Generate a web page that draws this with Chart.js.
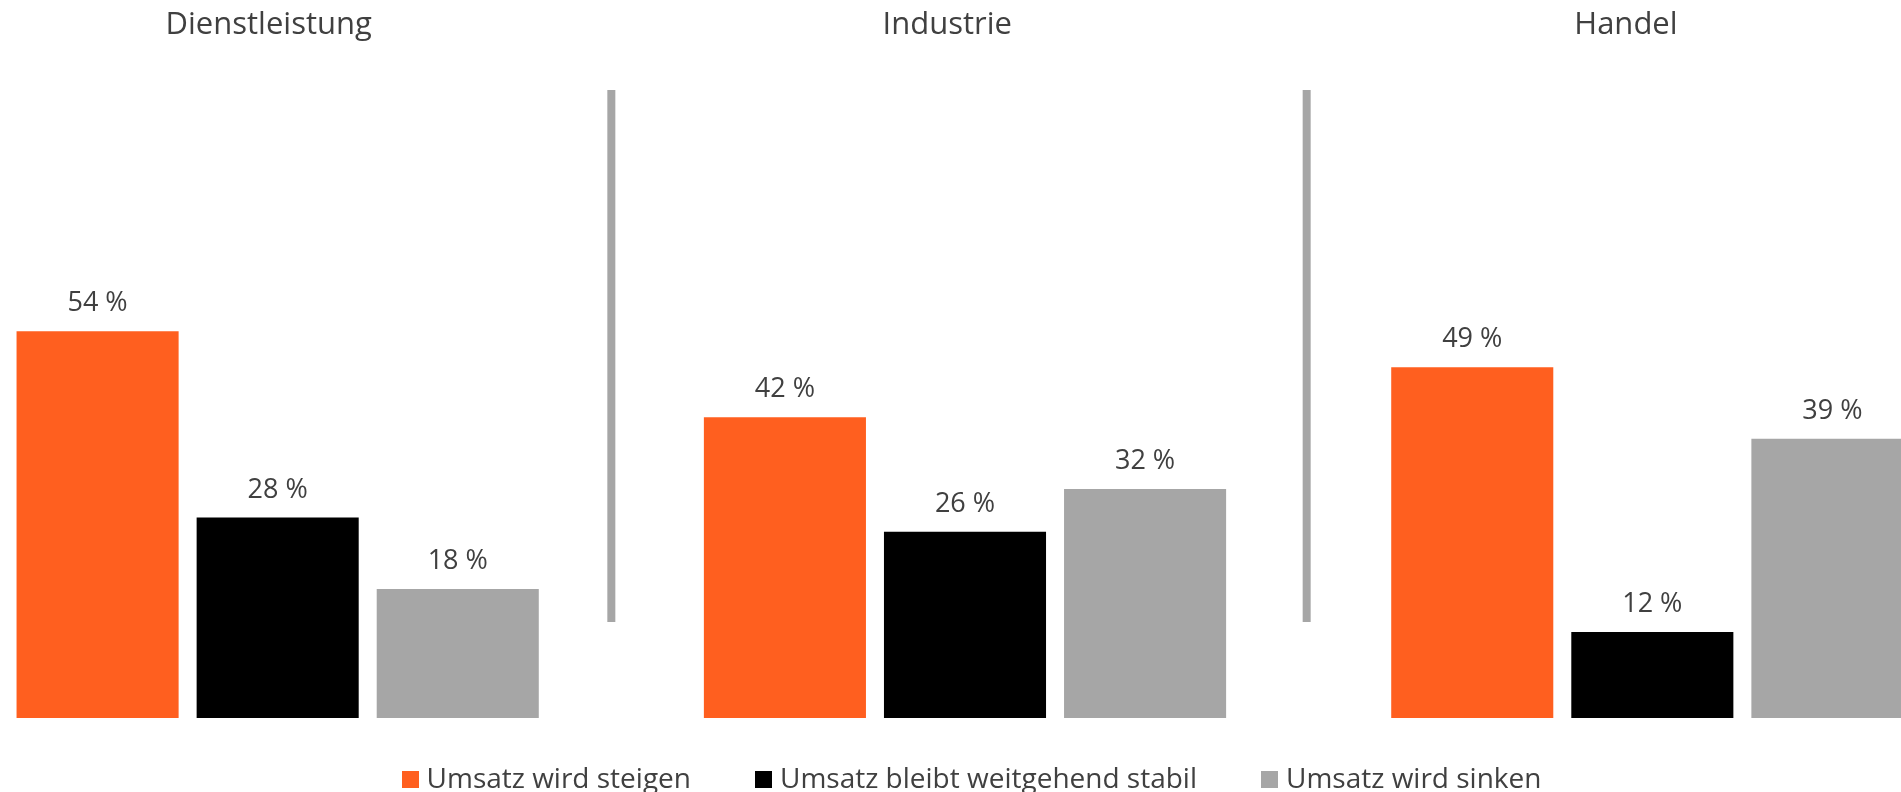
<!DOCTYPE html>
<html lang="de">
<head>
<meta charset="utf-8">
<title>Umsatzerwartung nach Branche</title>
<script src="https://cdn.jsdelivr.net/npm/chart.js@4.4.0/dist/chart.umd.min.js"></script>
<style>
    html, body { margin: 0; padding: 0; background: #fff; overflow: hidden; }
    body { width: 1901px; height: 792px; position: relative; font-family: "Open Sans", sans-serif; }
    #chartBox { position: absolute; left: -66px; top: 0; width: 2062px; height: 792px; }
    #legend { position: absolute; left: 21px; width: 1901px; top: 758px; text-align: center;
              font-size: 28px; line-height: 38px; color: #404040; white-space: nowrap; }
    #legend .item { display: inline-block; margin: 0 32px; }
    #legend .box { display: inline-block; width: 17px; height: 17px; margin-right: 8px; vertical-align: baseline; }
</style>
</head>
<body>
<div id="chartBox"><canvas id="salesChart"></canvas></div>
<div id="legend"></div>
<script>
// Kategorien (Branchen)
const categories = ['Dienstleistung', 'Industrie', 'Handel'];

// Serien
const seriesNames = ['Umsatz wird steigen', 'Umsatz bleibt weitgehend stabil', 'Umsatz wird sinken'];
const steigen = [54, 42, 49];
const stabil = [28, 26, 12];
const sinken = [18, 32, 39];

const colors = ['#FF5F1F', '#000000', '#A6A6A6'];
const textColor = '#404040';

// Titles above each group, vertical separators, value labels
const panelPlugin = {
    id: 'panelPlugin',
    afterDatasetsDraw(chart) {
        const ctx = chart.ctx;
        const x = chart.scales.x;
        const step = x.getPixelForValue(1) - x.getPixelForValue(0);

        ctx.save();

        // Value labels
        ctx.font = '27px "Open Sans"';
        ctx.fillStyle = textColor;
        ctx.textAlign = 'center';
        ctx.textBaseline = 'alphabetic';
        chart.data.datasets.forEach((ds, di) => {
            chart.getDatasetMeta(di).data.forEach((bar, i) => {
                ctx.fillText(ds.data[i] + ' %', bar.x, bar.y - 20);
            });
        });

        // Group titles
        ctx.font = '31px "Open Sans"';
        categories.forEach((cat, i) => {
            const cx = x.getPixelForValue(i) - 9 - 8.7 * i;
            ctx.fillText(cat, cx, 34);
        });

        // Separators between groups
        ctx.fillStyle = '#A6A6A6';
        const shift = [-10, -2];
        for (let i = 0; i < categories.length - 1; i++) {
            const sx = x.getPixelForValue(i) + step / 2 + shift[i];
            ctx.fillRect(sx - 4, 90, 8, 622 - 90);
        }

        ctx.restore();
    }
};

const ctx = document.getElementById('salesChart').getContext('2d');

const chart = new Chart(ctx, {
    type: 'bar',
    data: {
        labels: categories,
        datasets: [
            { label: seriesNames[0], data: steigen, backgroundColor: colors[0] },
            { label: seriesNames[1], data: stabil, backgroundColor: colors[1] },
            { label: seriesNames[2], data: sinken, backgroundColor: colors[2] }
        ]
    },
    options: {
        responsive: true,
        maintainAspectRatio: false,
        animation: false,
        layout: { padding: { top: 2, bottom: 74, left: 0, right: 0 } },
        datasets: {
            bar: { categoryPercentage: 0.786, barPercentage: 0.9, borderWidth: 0 }
        },
        scales: {
            x: { display: false },
            y: { display: false, min: 0, max: 100 }
        },
        plugins: {
            legend: { display: false },
            tooltip: { enabled: false }
        }
    },
    plugins: [panelPlugin]
});

// HTML legend
const legendBox = document.getElementById('legend');
chart.data.datasets.forEach(ds => {
    const item = document.createElement('span');
    item.className = 'item';
    item.innerHTML = `<span class="box" style="background:${ds.backgroundColor}"></span>${ds.label}`;
    legendBox.appendChild(item);
});
</script>
</body>
</html>
